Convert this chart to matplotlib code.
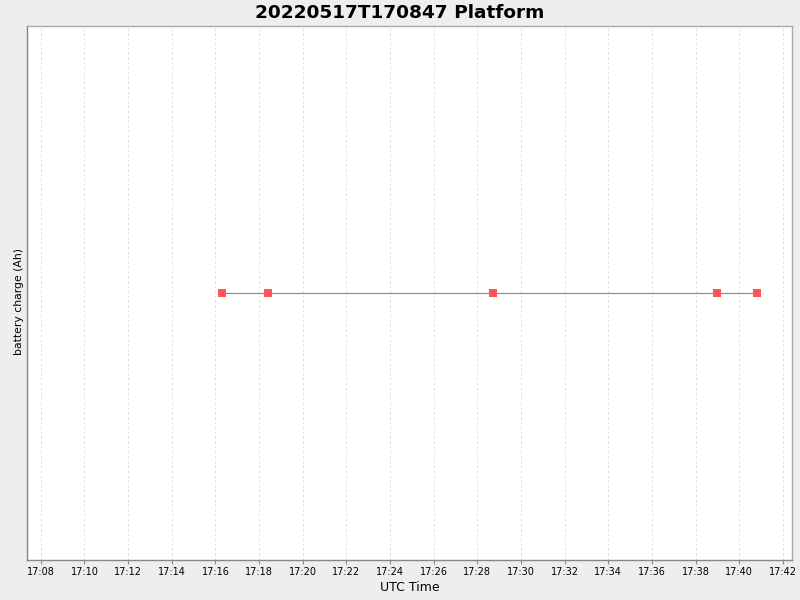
import datetime as dt

import matplotlib
matplotlib.use("Agg")
import matplotlib.pyplot as plt
import matplotlib.dates as mdates

times = ["17:16:17", "17:18:24", "17:28:43", "17:38:59", "17:40:49"]
charge = [0.0, 0.0, 0.0, 0.0, 0.0]
x_start = "17:07:22"
x_end = "17:42:25"

day = dt.date(2022, 5, 17)


def to_dt(s):
    return dt.datetime.combine(day, dt.time.fromisoformat(s))


xs = [to_dt(t) for t in times]

fig = plt.figure(figsize=(8, 6), dpi=100, facecolor="#EEEEEE")
ax = fig.add_axes([27 / 800, 40 / 600, 765 / 800, 534 / 600])
ax.set_facecolor("white")

ax.plot(xs, charge, color="#FF5555", linewidth=0.8, marker="s",
        markersize=5.5, markeredgewidth=0, zorder=3)

ax.set_xlim(to_dt(x_start), to_dt(x_end))
ax.set_ylim(-1, 1)

ax.xaxis.set_major_locator(mdates.MinuteLocator(byminute=range(0, 60, 2)))
ax.xaxis.set_major_formatter(mdates.DateFormatter("%H:%M"))
ax.grid(axis="x", color="#DDDDDD", linestyle=(0, (2.5, 2.5)), linewidth=0.7)
ax.set_yticks([])

ax.tick_params(axis="x", labelsize=7, length=3, color="#888888", pad=2)
for side, sp in ax.spines.items():
    sp.set_color("#888888" if side in ("left", "bottom") else "#AAAAAA")
    sp.set_linewidth(1.0)

ax.set_xlabel("UTC Time", fontsize=9, labelpad=3)
ax.set_ylabel("battery charge (Ah)", fontsize=7.8, labelpad=2)
ax.yaxis.set_label_coords(-0.004, 0.485)
ax.set_title("20220517T170847 Platform", fontsize=13.3, fontweight="bold",
             pad=6, x=0.4876)

fig.savefig("out.png", dpi=100, facecolor=fig.get_facecolor())
